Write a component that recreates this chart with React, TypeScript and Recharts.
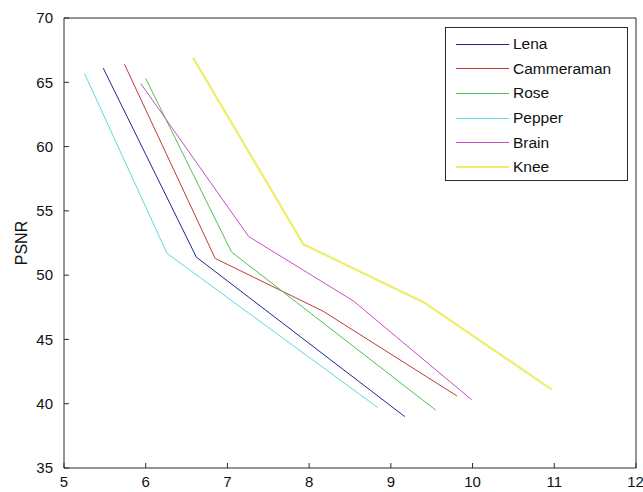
import React from 'react'
import { LineChart, Line, XAxis, YAxis } from 'recharts'

const seriesNames = ['Lena', 'Cammeraman', 'Rose', 'Pepper', 'Brain', 'Knee']
const seriesColors = ['#23238f', '#c0393b', '#4fc24f', '#5fd9d9', '#c64fc6', '#eeee6a']
const seriesWidths = [1, 1, 1, 1, 1, 2.2]

const lenaX = [5.48, 6.62, 9.17]
const lenaY = [66.1, 51.4, 39.0]
const camX = [5.74, 6.85, 8.17, 9.81]
const camY = [66.4, 51.3, 47.2, 40.6]
const roseX = [6.0, 7.05, 9.55]
const roseY = [65.3, 51.8, 39.5]
const pepperX = [5.25, 6.26, 8.84]
const pepperY = [65.7, 51.7, 39.7]
const brainX = [5.94, 7.26, 8.54, 9.99]
const brainY = [64.9, 53.0, 48.0, 40.3]
const kneeX = [6.58, 7.93, 9.4, 10.97]
const kneeY = [66.9, 52.4, 47.9, 41.1]

const xTicks = [5, 6, 7, 8, 9, 10, 11, 12]
const yTicks = [35, 40, 45, 50, 55, 60, 65, 70]

const toPoints = (xs: number[], ys: number[]) => xs.map((x, i) => ({ x, y: ys[i] }))

const series = [
  toPoints(lenaX, lenaY),
  toPoints(camX, camY),
  toPoints(roseX, roseY),
  toPoints(pepperX, pepperY),
  toPoints(brainX, brainY),
  toPoints(kneeX, kneeY),
]

const font = '"Liberation Sans", Arial, sans-serif'
const axisColor = '#2b2b2b'
const tickStyle = { fill: '#111', fontSize: 15, fontFamily: font }

function LegendBox() {
  return (
    <div
      style={{
        position: 'absolute',
        left: 445,
        top: 27,
        width: 183,
        height: 154,
        border: `1px solid ${axisColor}`,
        background: '#fff',
        fontFamily: font,
        fontSize: 15.5,
        color: '#111',
        paddingTop: 4,
        boxSizing: 'border-box',
      }}
    >
      {seriesNames.map((name, i) => (
        <div key={name} style={{ display: 'flex', alignItems: 'center', height: 24.6 }}>
          <div
            style={{
              width: 53,
              marginLeft: 10,
              height: seriesWidths[i] > 1 ? 2 : 1,
              background: seriesColors[i],
            }}
          />
          <span style={{ marginLeft: 4 }}>{name}</span>
        </div>
      ))}
    </div>
  )
}

export default function App() {
  return (
    <div style={{ position: 'absolute', left: 0, top: 0, width: 643, height: 492, background: '#fff' }}>
      <LineChart width={643} height={492} margin={{ top: 17, right: 6, bottom: 0, left: 0 }}>
        <XAxis
          dataKey="x"
          type="number"
          domain={[5, 12]}
          ticks={xTicks}
          allowDataOverflow
          height={24}
          tickSize={-5}
          tickMargin={13}
          tick={tickStyle}
          stroke={axisColor}
        />
        <XAxis
          xAxisId="top"
          orientation="top"
          type="number"
          domain={[5, 12]}
          ticks={xTicks}
          height={1}
          tickSize={-5}
          tick={false}
          stroke={axisColor}
        />
        <YAxis
          type="number"
          domain={[35, 70]}
          ticks={yTicks}
          allowDataOverflow
          width={64}
          tickSize={-5}
          tickMargin={16}
          tick={tickStyle}
          stroke={axisColor}
          label={({ viewBox }: any) => {
            const cx = viewBox.x + 21
            const cy = viewBox.y + viewBox.height / 2
            return (
              <text
                x={cx}
                y={cy}
                transform={`rotate(-90 ${cx} ${cy})`}
                textAnchor="middle"
                dominantBaseline="central"
                fontSize={16}
                fontFamily={font}
                fill="#111"
              >
                PSNR
              </text>
            )
          }}
        />
        <YAxis
          yAxisId="right"
          orientation="right"
          type="number"
          domain={[35, 70]}
          ticks={yTicks}
          width={1}
          tickSize={-5}
          tick={false}
          stroke={axisColor}
        />
        {series.map((data, i) => (
          <Line
            key={seriesNames[i]}
            name={seriesNames[i]}
            data={data}
            dataKey="y"
            type="linear"
            stroke={seriesColors[i]}
            strokeWidth={seriesWidths[i]}
            dot={false}
            activeDot={false}
            isAnimationActive={false}
          />
        ))}
      </LineChart>
      <LegendBox />
    </div>
  )
}
